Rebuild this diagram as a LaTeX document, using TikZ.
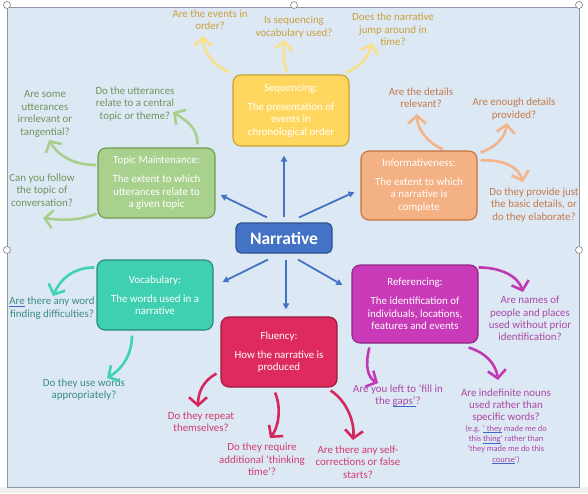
\documentclass[tikz,border=0pt]{standalone}
\usepackage{fontspec}
\setmainfont{Carlito}
\usetikzlibrary{arrows.meta}
\definecolor{bgblue}{HTML}{DDE8F5}
\definecolor{framegray}{HTML}{8C96A6}
\definecolor{ulblue}{HTML}{3F64CC}
\definecolor{seqfill}{HTML}{FFD75E}\definecolor{seqdraw}{HTML}{C8A030}
\definecolor{seqtext}{HTML}{C9A13A}\definecolor{seqarr}{HTML}{F9E08A}
\definecolor{tmfill}{HTML}{A9D18E}\definecolor{tmdraw}{HTML}{6F9A52}
\definecolor{tmtext}{HTML}{72935C}\definecolor{tmarr}{HTML}{A9CF8E}
\definecolor{inffill}{HTML}{F4B183}\definecolor{infdraw}{HTML}{C27440}
\definecolor{inftext}{HTML}{C47A48}\definecolor{infarr}{HTML}{F2B48A}
\definecolor{vocfill}{HTML}{3ED0B1}\definecolor{vocdraw}{HTML}{2A8A78}
\definecolor{voctext}{HTML}{3A8C80}\definecolor{vocarr}{HTML}{3ED3B3}
\definecolor{flufill}{HTML}{DE2A5C}\definecolor{fludraw}{HTML}{9C1A40}
\definecolor{flutext}{HTML}{D03C6C}\definecolor{fluarr}{HTML}{D4285C}
\definecolor{reffill}{HTML}{C83AB8}\definecolor{refdraw}{HTML}{8C2A86}
\definecolor{reftext}{HTML}{A848A4}\definecolor{refarr}{HTML}{C03AB2}
\definecolor{narrfill}{HTML}{4472C4}\definecolor{narrdraw}{HTML}{2F528F}
\newcommand\qfont{\fontsize{10.9}{12.4}\selectfont}
\newcommand\smfont{\fontsize{8.4}{10.3}\selectfont}
\newcommand\wul[1]{\setbox0\hbox{#1}\rlap{\color{ulblue}\rule[-1.6pt]{\wd0}{0.6pt}}\box0\relax}
\tikzset{
  catbox/.style={rectangle, rounded corners=8pt, line width=1.1pt, text=white,
    align=center, inner sep=2pt, font=\qfont, minimum width=116pt, minimum height=70pt},
  qtext/.style={align=center, inner sep=0pt, font=\qfont},
  bluearr/.style={draw=narrfill, line width=1.8pt, -{Triangle[length=6pt,width=6pt]}},
  qarr/.style={line width=2.6pt, -{Straight Barb[length=8pt,width=18pt]}},
  handle/.style={draw=gray, fill=white, line width=0.6pt}
}
\begin{document}
\begin{tikzpicture}[x=1pt,y=-1pt]
\useasboundingbox (0,0) rectangle (588,493);
\fill[white] (0,0) rectangle (588,493);
\fill[gray!12] (0,487) rectangle (588,493);
\draw[fill=bgblue, draw=framegray, line width=0.8pt] (7,7) rectangle (579,487);
\foreach \p in {(7,5),(294,5),(579,5),(7,250),(579,250)} \draw[handle] \p circle (3.5);

% category boxes
\node[catbox, fill=seqfill, draw=seqdraw, minimum height=71pt] (seq) at (291,110.5)
  {Sequencing:\\[6.5pt]The presentation of\\events in\\chronological order};
\node[catbox, fill=tmfill, draw=tmdraw, minimum width=117pt] (tm) at (156.5,183)
  {Topic Maintenance:\\[6.5pt]The extent to which\\utterances relate to\\a given topic};
\node[catbox, fill=inffill, draw=infdraw, minimum height=69pt] (inf) at (419,185.5)
  {Informativeness:\\[6.5pt]The extent to which\\a narrative is\\complete};
\node[rectangle, rounded corners=5pt, line width=1.1pt, fill=narrfill, draw=narrdraw,
  text=white, font=\fontsize{17.5}{20}\selectfont\bfseries, minimum width=96pt,
  minimum height=30pt, inner sep=0pt] (narr) at (284,238) {Narrative};
\node[catbox, fill=vocfill, draw=vocdraw] (voc) at (155,295)
  {Vocabulary:\\[6.5pt]The words used in a\\narrative};
\node[catbox, fill=reffill, draw=refdraw, minimum width=126pt, minimum height=78pt] (ref) at (415,304)
  {Referencing:\\[6.5pt]The identification of\\individuals, locations,\\features and events};
\node[catbox, fill=flufill, draw=fludraw] (flu) at (279,352)
  {Fluency:\\[6.5pt]How the narrative is\\produced};

% blue arrows from the centre
\draw[bluearr] ([shift={(-17,-5)}]narr.north) -- ([shift={(5,12)}]tm.east);
\draw[bluearr] ([shift={(0,-5)}]narr.north) -- ([shift={(-7,9)}]seq.south);
\draw[bluearr] ([shift={(15,-5)}]narr.north) -- ([shift={(-6,6.5)}]inf.west);
\draw[bluearr] ([shift={(-16,6)}]narr.south) -- ([shift={(9,-13)}]voc.east);
\draw[bluearr] ([shift={(2,6)}]narr.south) -- ([shift={(7,-7)}]flu.north);
\draw[bluearr] ([shift={(14,6)}]narr.south) -- ([shift={(-9,-19)}]ref.west);

% questions: sequencing
\node[qtext, text=seqtext] (s1) at (210,19.5) {Are the events in\\order?};
\node[qtext, text=seqtext] (s2) at (294,27) {Is sequencing\\vocabulary used?};
\node[qtext, text=seqtext] (s3) at (393,29.5) {Does the narrative\\jump around in\\time?};
% topic maintenance
\node[qtext, text=tmtext] (t1) at (135,104) {Do the utterances\\relate to a central\\topic or theme?};
\node[qtext, text=tmtext] (t2) at (45,114) {Are some\\utterances\\irrelevant or\\tangential?};
\node[qtext, text=tmtext] (t3) at (42,190) {Can you follow\\the topic of\\conversation?};
% informativeness
\node[qtext, text=inftext] (i1) at (421,98) {Are the details\\relevant?};
\node[qtext, text=inftext] (i2) at (514,109) {Are enough details\\provided?};
\node[qtext, text=inftext] (i3) at (534,205) {Do they provide just\\the basic details, or\\do they elaborate?};
% vocabulary
\node[qtext, text=voctext] (v1) at (52,308) {\wul{Are} there any word\\finding difficulties?};
\node[qtext, text=voctext] (v2) at (84,389.5) {Do they use words\\appropriately?};
% fluency
\node[qtext, text=flutext] (f1) at (201,422) {Do they repeat\\themselves?};
\node[qtext, text=flutext] (f2) at (262,459.5) {Do they require\\additional ‘thinking\\time’?};
\node[qtext, text=flutext] (f3) at (358,462) {Are there any self-\\corrections or false\\starts?};
% referencing
\node[qtext, text=reftext] (r1) at (530,318.5) {Are names of\\people and places\\used without prior\\identification?};
\node[qtext, text=reftext] (r2) at (398,395.5) {Are you left to ‘fill in\\the \wul{gaps’}?};
\node[qtext, text=reftext] (r3) at (506,405.5) {Are indefinite nouns\\used rather than\\specific words?};
\node[qtext, text=reftext, font=\smfont] (r3eg) at (506,444.5)
  {(e.g. \wul{‘ they} made me do\\this \wul{thing}’ rather than\\‘they made me do this\\\wul{course}’)};

% curved arrows
\draw[qarr, seqarr] ([shift={(-3,-2)}]seq.north west) .. controls +(-18,-8) and +(0,14) .. ([shift={(-7,16.5)}]s1.center);
\draw[qarr, seqarr] ([shift={(-4,-2)}]seq.north) .. controls +(-4,-12) and +(-2,12) .. ([shift={(-9,13)}]s2.center);
\draw[qarr, seqarr] ([shift={(-4,-2)}]seq.north east) .. controls +(15,-5) and +(-4,14) .. ([shift={(-21,13.5)}]s3.center);

\draw[qarr, tmarr] ([shift={(-18,-3)}]tm.north east) .. controls +(0,-18) and +(12,8) .. ([shift={(38,8)}]t1.center);
\draw[qarr, tmarr] ([shift={(-1,-18)}]tm.west) .. controls +(-25,0) and +(8,14) .. ([shift={(4,26)}]t2.center);
\draw[qarr, tmarr] ([shift={(-1,-5)}]tm.south west) .. controls +(-18,8) and +(16,2) .. ([shift={(1,28)}]t3.center);

\draw[qarr, infarr] ([shift={(24,-1)}]inf.north) .. controls +(-14,-6) and +(0,16) .. ([shift={(-4,16)}]i1.center);
\draw[qarr, infarr] ([shift={(3,2)}]inf.north east) .. controls +(15,-5) and +(-2,15) .. ([shift={(-7,14)}]i2.center);
\draw[qarr, infarr] ([shift={(3,10)}]inf.north east) .. controls +(22,-1) and +(-5,-16) .. ([shift={(-11,-23)}]i3.center);

\draw[qarr, vocarr] ([shift={(-2,8)}]voc.north west) .. controls +(-22,0) and +(7,-16) .. ([shift={(1,-12)}]v1.center);
\draw[qarr, vocarr] ([shift={(-23,5)}]voc.south) .. controls +(0,20) and +(14,-8) .. ([shift={(23,-11.5)}]v2.center);

\draw[qarr, fluarr] ([shift={(-4,-14)}]flu.south west) .. controls +(-13,7) and +(0,-15) .. ([shift={(-3,-15)}]f1.center);
\draw[qarr, fluarr] ([shift={(-4,5)}]flu.south) .. controls +(7,16) and +(8,-10) .. ([shift={(8,-21.5)}]f2.center);
\draw[qarr, fluarr] ([shift={(-7,3)}]flu.south east) .. controls +(16,10) and +(2,-18) .. ([shift={(-5,-22)}]f3.center);

\draw[qarr, refarr] ([shift={(0,3)}]ref.north east) .. controls +(22,0) and +(-5,-16) .. ([shift={(-7,-26.5)}]r1.center);
\draw[qarr, refarr] ([shift={(18,4)}]ref.south west) .. controls +(-5,18) and +(-10,-5) .. ([shift={(-20,-12.5)}]r2.center);
\draw[qarr, refarr] ([shift={(-10,4)}]ref.south east) .. controls +(17,5) and +(-2,-16) .. ([shift={(-8,-25.5)}]r3.center);
\end{tikzpicture}
\end{document}
